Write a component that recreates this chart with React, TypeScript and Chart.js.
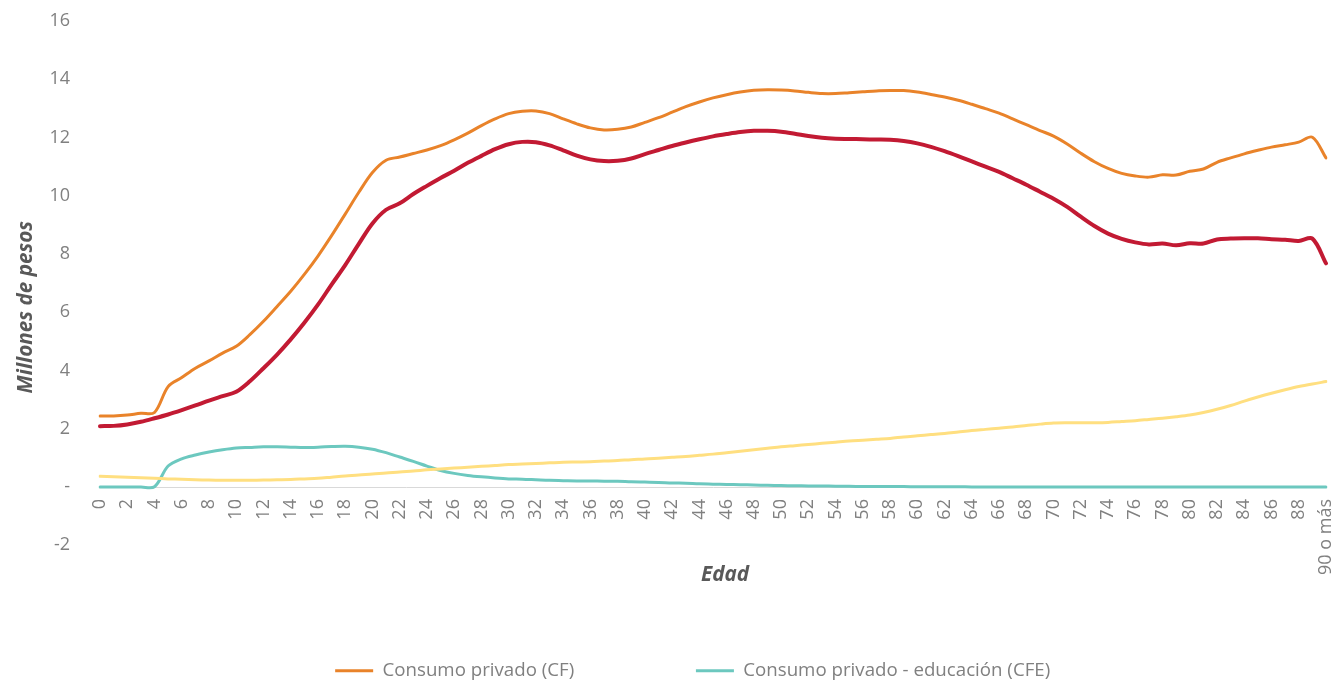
import React, { useEffect, useRef } from 'react';
import { Chart, registerables } from 'chart.js';

Chart.register(...registerables);

const ages: string[] = [
  '0','1','2','3','4','5','6','7','8','9',
  '10','11','12','13','14','15','16','17','18','19',
  '20','21','22','23','24','25','26','27','28','29',
  '30','31','32','33','34','35','36','37','38','39',
  '40','41','42','43','44','45','46','47','48','49',
  '50','51','52','53','54','55','56','57','58','59',
  '60','61','62','63','64','65','66','67','68','69',
  '70','71','72','73','74','75','76','77','78','79',
  '80','81','82','83','84','85','86','87','88','89',
  '90 o más',
];

// Consumo privado (CF) - orange
const consumoCF: number[] = [
  2.44, 2.44, 2.47, 2.53, 2.56, 3.45, 3.76, 4.08, 4.33, 4.6,
  4.83, 5.23, 5.69, 6.2, 6.72, 7.3, 7.93, 8.63, 9.37, 10.12,
  10.8, 11.22, 11.33, 11.45, 11.57, 11.72, 11.92, 12.15, 12.41, 12.64,
  12.82, 12.9, 12.91, 12.82, 12.64, 12.47, 12.33, 12.26, 12.28, 12.36,
  12.52, 12.68, 12.87, 13.06, 13.22, 13.36, 13.47, 13.56, 13.62, 13.64,
  13.63, 13.6, 13.55, 13.51, 13.51, 13.54, 13.57, 13.6, 13.61, 13.61,
  13.56, 13.48, 13.39, 13.28, 13.14, 12.99, 12.84, 12.64, 12.44, 12.24,
  12.05, 11.78, 11.46, 11.17, 10.94, 10.77, 10.68, 10.64, 10.72, 10.71,
  10.84, 10.92, 11.15, 11.3, 11.44, 11.56, 11.67, 11.75, 11.84, 12.01,
  11.3,
];

// Red series (not in legend)
const consumoResto: number[] = [
  2.09, 2.1, 2.15, 2.24, 2.36, 2.49, 2.64, 2.8, 2.97, 3.12,
  3.27, 3.63, 4.08, 4.55, 5.07, 5.64, 6.26, 6.95, 7.62, 8.35,
  9.05, 9.52, 9.74, 10.06, 10.34, 10.61, 10.86, 11.13, 11.37, 11.6,
  11.77, 11.85, 11.84, 11.73, 11.56, 11.38, 11.25, 11.19, 11.2, 11.28,
  11.43, 11.57, 11.71, 11.83, 11.94, 12.04, 12.12, 12.19, 12.23, 12.23,
  12.2, 12.13, 12.05, 11.99, 11.96, 11.95, 11.94, 11.93, 11.92, 11.88,
  11.8, 11.68, 11.53, 11.36, 11.18, 11.0, 10.82, 10.6, 10.38, 10.14,
  9.9, 9.62, 9.28, 8.96, 8.7, 8.52, 8.4, 8.33, 8.36, 8.3,
  8.37, 8.36, 8.5, 8.53, 8.54, 8.54, 8.51, 8.49, 8.45, 8.53,
  7.68,
];

// Yellow series (not in legend)
const consumoSalud: number[] = [
  0.37, 0.355, 0.34, 0.32, 0.3, 0.28, 0.265, 0.25, 0.24, 0.235,
  0.23, 0.235, 0.24, 0.25, 0.26, 0.28, 0.3, 0.34, 0.38, 0.41,
  0.45, 0.48, 0.52, 0.55, 0.59, 0.62, 0.65, 0.68, 0.71, 0.74,
  0.77, 0.79, 0.81, 0.83, 0.85, 0.86, 0.87, 0.89, 0.91, 0.94,
  0.96, 0.99, 1.02, 1.05, 1.09, 1.13, 1.18, 1.23, 1.28, 1.33,
  1.38, 1.42, 1.46, 1.5, 1.54, 1.58, 1.61, 1.64, 1.67, 1.72,
  1.76, 1.8, 1.84, 1.89, 1.94, 1.98, 2.02, 2.06, 2.11, 2.16,
  2.2, 2.21, 2.21, 2.21, 2.22, 2.25, 2.28, 2.32, 2.36, 2.41,
  2.47, 2.56, 2.67, 2.8, 2.95, 3.09, 3.22, 3.34, 3.45, 3.54,
  3.62,
];

// Consumo privado - educación (CFE) - teal
const consumoCFE: number[] = [
  0, 0, 0, 0, 0.01, 0.72, 0.97, 1.1, 1.2, 1.28,
  1.34, 1.36, 1.38, 1.38, 1.37, 1.36, 1.37, 1.39, 1.4, 1.37,
  1.3, 1.18, 1.03, 0.88, 0.72, 0.57, 0.47, 0.4, 0.35, 0.31,
  0.28, 0.27, 0.25, 0.23, 0.22, 0.21, 0.21, 0.2, 0.2, 0.18,
  0.17, 0.16, 0.14, 0.13, 0.11, 0.1, 0.09, 0.08, 0.07, 0.06,
  0.05, 0.045, 0.04, 0.035, 0.03, 0.025, 0.02, 0.02, 0.015, 0.015,
  0.01, 0.01, 0.01, 0.008, 0.005, 0.003, 0, 0, 0, 0,
  0, 0, 0, 0, 0, 0, 0, 0, 0, 0,
  0, 0, 0, 0, 0, 0, 0, 0, 0, 0,
  0,
];

const ORANGE = '#E9832A';
const RED = '#C21A33';
const YELLOW = '#FFDF80';
const TEAL = '#6CC8BF';
const TICK_COLOR = '#808080';
const TITLE_COLOR = '#595959';

// Moves the axis titles to where the original places them (off the plot centre)
const titleNudge = {
  id: 'titleNudge',
  afterLayout(chart: any) {
    const y = chart.scales.y;
    if (y) {
      y.top += 24;
      y.bottom += 24;
    }
    const xt = chart.scales.xTitle;
    if (xt) {
      xt.left += 12;
      xt.right += 12;
    }
  },
};

export default function App() {
  const canvasRef = useRef<HTMLCanvasElement>(null);

  useEffect(() => {
    if (!canvasRef.current) return;
    Chart.defaults.font.family = "'Open Sans', 'Noto Sans', sans-serif";

    const legendEntry = (text: string, color: string, idx?: number) => ({
      text,
      fillStyle: color,
      strokeStyle: color,
      lineWidth: text ? 3 : 0,
      lineCap: 'butt' as const,
      pointStyle: 'line' as const,
      hidden: false,
      datasetIndex: idx,
      fontColor: TICK_COLOR,
    });

    const chart = new Chart(canvasRef.current, {
      type: 'line',
      data: {
        labels: ages,
        datasets: [
          { label: 'Consumo privado (CF)', data: consumoCF, borderColor: ORANGE, backgroundColor: ORANGE, borderWidth: 3 },
          { label: 'Serie 3', data: consumoResto, borderColor: RED, backgroundColor: RED, borderWidth: 4 },
          { label: 'Serie 4', data: consumoSalud, borderColor: YELLOW, backgroundColor: YELLOW, borderWidth: 3 },
          { label: 'Consumo privado - educación (CFE)', data: consumoCFE, borderColor: TEAL, backgroundColor: TEAL, borderWidth: 3 },
        ],
      },
      plugins: [titleNudge],
      options: {
        animation: false,
        responsive: true,
        maintainAspectRatio: false,
        elements: {
          point: { radius: 0, hoverRadius: 0 },
          line: { tension: 0.33, fill: false, borderCapStyle: 'round' },
        },
        layout: { padding: { top: 21, left: 0, right: 10, bottom: -9 } },
        plugins: {
          tooltip: { enabled: false },
          legend: {
            position: 'bottom',
            align: 'center',
            labels: {
              usePointStyle: true,
              pointStyle: 'line',
              pointStyleWidth: 38,
              padding: 9,
              color: TICK_COLOR,
              font: { size: 18.7 },
              generateLabels: () => [
                legendEntry('', 'rgba(0,0,0,0)'),
                legendEntry('Consumo privado (CF)', ORANGE, 0),
                legendEntry('', 'rgba(0,0,0,0)'),
                legendEntry('', 'rgba(0,0,0,0)'),
                legendEntry('Consumo privado - educación (CFE)', TEAL, 3),
              ],
            },
          },
        },
        scales: {
          x: {
            type: 'category',
            position: { y: 0 },
            grid: { display: false, drawTicks: false },
            border: { display: true, color: '#D9D9D9', width: 1 },
            ticks: {
              autoSkip: false,
              minRotation: 90,
              maxRotation: 90,
              padding: 12,
              color: TICK_COLOR,
              font: { size: 18 },
              callback: (_v: any, i: number) => (i % 2 === 0 ? ages[i] : ''),
            },
            afterFit: (s: any) => {
              s.height = 0;
              s.paddingLeft = 0;
              s.paddingRight = 13;
            },
          },
          xTitle: {
            type: 'category',
            position: 'bottom',
            grid: { display: false, drawTicks: false },
            border: { display: false },
            ticks: { display: false },
            title: {
              display: true,
              text: 'Edad',
              color: TITLE_COLOR,
              font: { size: 20.7, weight: 'bold', style: 'italic' },
              padding: { top: 18, bottom: 65 },
            },
            afterFit: (s: any) => {
              s.height = 107;
              s.paddingLeft = 0;
              s.paddingRight = 0;
            },
          },
          y: {
            min: -2,
            max: 16,
            grid: { display: false, drawTicks: false },
            border: { display: false },
            ticks: {
              stepSize: 2,
              padding: 30,
              color: TICK_COLOR,
              font: { size: 18 },
              callback: (v: any) => (Number(v) === 0 ? '-' : String(v)),
            },
            title: {
              display: true,
              text: 'Millones de pesos',
              color: TITLE_COLOR,
              font: { size: 20.7, weight: 'bold', style: 'italic' },
              padding: { top: 14, bottom: 0 },
            },
            afterFit: (s: any) => {
              s.width = 100;
              s.paddingTop = 0;
              s.paddingBottom = 0;
            },
          },
        },
      } as any,
    });
    return () => chart.destroy();
  }, []);

  return (
    <div style={{ position: 'fixed', left: 0, top: 0, width: 1339, height: 681 }}>
      <canvas ref={canvasRef} />
    </div>
  );
}
